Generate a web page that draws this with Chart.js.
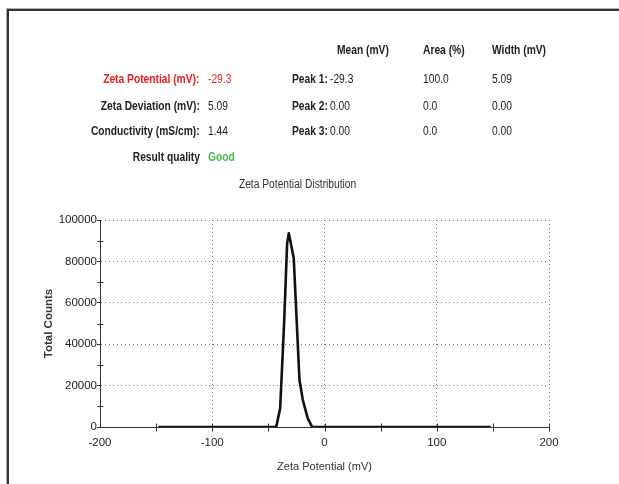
<!DOCTYPE html>
<html lang="en">
<head>
<meta charset="UTF-8">
<title>Zeta Potential Distribution</title>
<script src="https://cdn.jsdelivr.net/npm/chart.js"></script>
<style>
  body { margin: 0; background: #fff; }
  #page {
    position: relative; width: 619px; height: 484px; overflow: hidden;
    font-family: "Liberation Sans", Arial, sans-serif;
  }
  #frame {
    position: absolute; left: 7px; top: 9px; width: 640px; height: 500px;
    border-top: 2px solid #333; border-left: 2px solid #333;
    box-shadow: -1px -1px 0 #b0b0b0;
  }
  /* the original text is a narrow face: squeeze it horizontally */
  .t { position: absolute; font-size: 12.5px; line-height: 14px; color: #222; white-space: nowrap;
       transform: scaleX(0.82); transform-origin: left center; }
  .t.right { transform-origin: right center; }
  .t.mid { transform-origin: center center; }
  .b { font-weight: bold; }
  .red { color: #ee1c1c; }
  .green { color: #4cbb4c; }
  canvas { position: absolute; left: 0; top: 0; }
</style>
</head>
<body>
<div id="page">
  <div id="frame"></div>
  <canvas id="chart" width="619" height="484"></canvas>
</div>

<script>
// summary table
const summaryLabels = ['Zeta Potential (mV):', 'Zeta Deviation (mV):', 'Conductivity (mS/cm):', 'Result quality'];
const summaryValues = ['-29.3', '5.09', '1.44', 'Good'];
const peakHeaders = ['Mean (mV)', 'Area (%)', 'Width (mV)'];
const peakLabels = ['Peak 1:', 'Peak 2:', 'Peak 3:'];
const peakMeans = ['-29.3', '0.00', '0.00'];
const peakAreas = ['100.0', '0.0', '0.0'];
const peakWidths = ['5.09', '0.00', '0.00'];

// distribution curve (mV, total counts)
const potentials = [-148, -43, -39.5, -36, -33.3, -31.8, -29.4, -27.4, -22.3, -19.3, -14.9, -11, 148];
const counts     = [0, 0, 9000, 50000, 88700, 93600, 87100, 81500, 22700, 13000, 4200, 0, 0];

// axes
const xRange = [-200, 200];
const yRange = [0, 100000];
const xTickMarks = [-150, -100, -50, 0, 50, 100, 150, 200];
const yMinorTicks = [10000, 30000, 50000, 70000, 90000];

const FONT = '"Liberation Sans", Arial, sans-serif';

// header text
const page = document.getElementById('page');
function addText(txt, cls, left, cy, alignRight) {
  const d = document.createElement('div');
  d.className = 't ' + cls + (alignRight ? ' right' : '');
  d.textContent = txt;
  d.style.top = (cy - 7) + 'px';
  if (alignRight) d.style.right = (619 - left) + 'px';
  else d.style.left = left + 'px';
  page.appendChild(d);
  return d;
}
const rowY = [79, 105.5, 131, 157];
const colX = [337, 423, 492];
peakHeaders.forEach((h, i) => addText(h, 'b', colX[i], 50));
summaryLabels.forEach((s, i) => {
  addText(s, 'b' + (i === 0 ? ' red' : ''), 199.5, rowY[i], true);
  addText(summaryValues[i], i === 0 ? 'red' : (i === 3 ? 'b green' : ''), 207.5, rowY[i]);
});
peakLabels.forEach((p, i) => {
  addText(p, 'b', 292, rowY[i]);
  addText(peakMeans[i], '', 330, rowY[i]);
  addText(peakAreas[i], '', colX[1], rowY[i]);
  addText(peakWidths[i], '', colX[2], rowY[i]);
});
const title = addText('Zeta Potential Distribution', 'mid', 0, 184);
title.style.color = '#333';
title.style.left = (297 - title.offsetWidth / 2) + 'px';

// small tick crosses on the axes
const axisTicks = {
  id: 'axisTicks',
  beforeDatasetsDraw(chart) {
    const { ctx, scales: { x, y } } = chart;
    const axisY = Math.round(y.getPixelForValue(yRange[0])) + 0.5;
    const axisX = Math.round(x.getPixelForValue(xRange[0])) + 0.5;
    ctx.save();
    ctx.strokeStyle = '#333';
    ctx.lineWidth = 1;
    ctx.beginPath();
    xTickMarks.forEach(v => {
      const px = Math.round(x.getPixelForValue(v)) + 0.5;
      ctx.moveTo(px, axisY - 4);
      ctx.lineTo(px, axisY + 4);
    });
    yMinorTicks.forEach(v => {
      const py = Math.round(y.getPixelForValue(v)) + 0.5;
      ctx.moveTo(axisX - 3, py);
      ctx.lineTo(axisX + 3, py);
    });
    ctx.stroke();
    ctx.restore();
  }
};

const gridColor = edge => c => (c.tick && c.tick.value === edge) ? 'rgba(0,0,0,0)' : '#7a7a7a';

new Chart(document.getElementById('chart'), {
  type: 'line',
  data: {
    datasets: [{
      data: potentials.map((p, i) => ({ x: p, y: counts[i] })),
      borderColor: '#111',
      borderWidth: 2.6,
      borderJoinStyle: 'round',
      pointRadius: 0,
      tension: 0,
      fill: false
    }]
  },
  options: {
    responsive: false,
    animation: false,
    layout: { padding: { left: 0, top: 220, right: 70, bottom: 0 } },
    plugins: { legend: { display: false }, tooltip: { enabled: false } },
    scales: {
      x: {
        type: 'linear',
        min: xRange[0], max: xRange[1],
        ticks: { stepSize: 100, padding: 9, color: '#222', font: { family: FONT, size: 11.5 },
                 callback: v => String(v) },
        grid: { color: gridColor(xRange[0]), lineWidth: 1, drawTicks: false },
        border: { color: '#333', width: 1, dash: [1, 3] },
        title: { display: true, text: 'Zeta Potential (mV)', color: '#333',
                 font: { family: FONT, size: 11 }, padding: { top: 0, bottom: 10 } },
        afterFit(scale) { scale.height = 57; }
      },
      y: {
        min: yRange[0], max: yRange[1],
        ticks: { stepSize: 20000, padding: 0, color: '#222', font: { family: FONT, size: 11.5 },
                 callback: v => String(v) },
        grid: { color: gridColor(yRange[0]), lineWidth: 1, tickLength: 3,
                tickColor: '#333', tickBorderDash: [] },
        border: { color: '#333', width: 1, dash: [1, 3] },
        title: { display: true, text: 'Total Counts', color: '#333',
                 font: { family: FONT, size: 11.5, weight: 'bold' }, padding: { top: 42, bottom: 0 } },
        afterFit(scale) { scale.width = 100; }
      }
    }
  },
  plugins: [axisTicks]
});
</script>
</body>
</html>
